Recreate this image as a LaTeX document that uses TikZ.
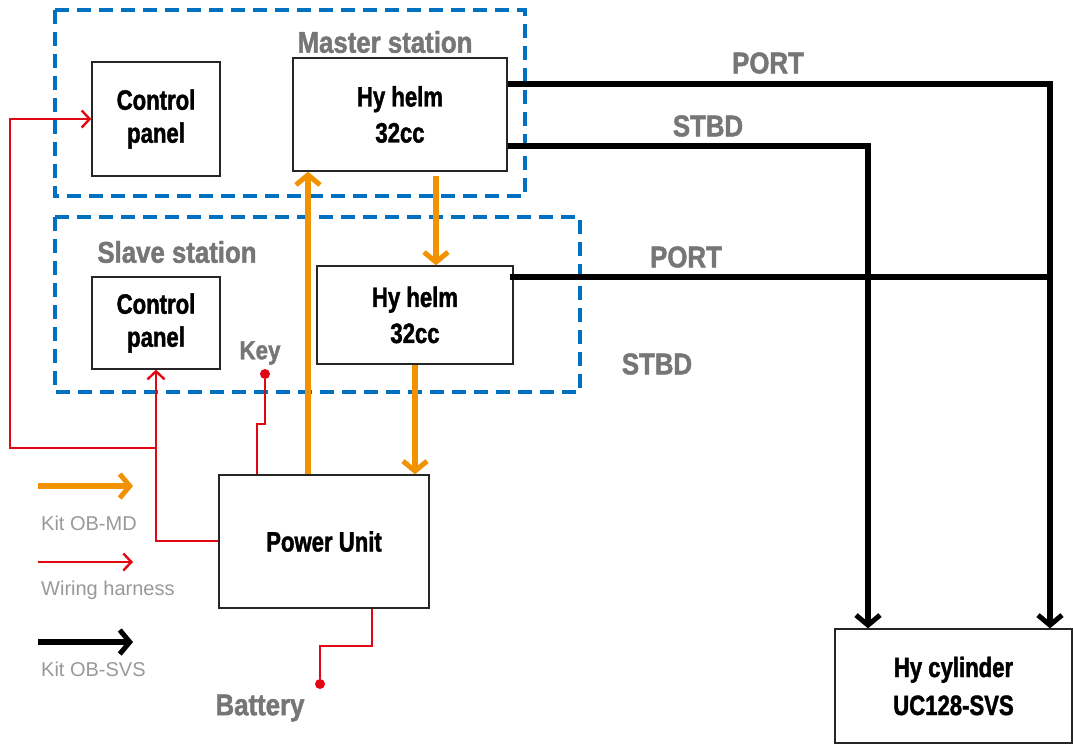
\documentclass[tikz,border=0pt]{standalone}
\usepackage{fontspec}
\setmainfont{Liberation Sans}
\newfontfamily\imp[FakeStretch=0.79,FakeBold=1.5]{Liberation Sans Bold}
\newfontfamily\impg[FakeStretch=0.86,FakeBold=1.5]{Liberation Sans Bold}
\usetikzlibrary{arrows.meta}
\definecolor{org}{RGB}{243,146,0}
\definecolor{wred}{RGB}{227,6,19}
\definecolor{dblue}{RGB}{0,112,192}
\definecolor{lgray}{RGB}{118,118,118}
\definecolor{legray}{RGB}{153,153,153}
\begin{document}
\begin{tikzpicture}[x=1pt,y=-1pt,
  box/.style={draw=black!85, line width=1.3pt, inner sep=0pt, align=center,
    font=\imp\fontsize{28}{33}\selectfont},
  station/.style={draw=dblue, line width=3.2pt, dash pattern=on 14pt off 8pt},
  glabel/.style={text=lgray, inner sep=0pt, font=\impg\fontsize{30}{34}\selectfont},
  legtext/.style={text=legray, inner sep=0pt, anchor=west, font=\fontsize{20}{24}\selectfont},
  orangearrow/.style={draw=org, line width=5.5pt, -{Straight Barb[length=10pt,width=24pt,line width=5pt]}},
  wire/.style={draw=wred, line width=2.4pt},
  wirearrow/.style={wire, -{Straight Barb[length=8pt,width=17pt,line width=2.4pt]}},
  hyd/.style={draw=black, line width=5.5pt},
  hydarrow/.style={hyd, -{Straight Barb[length=10pt,width=24pt,line width=5pt]}},
  dot/.style={circle, fill=wred, inner sep=0pt, minimum size=10pt}
]
\useasboundingbox (0,0) rectangle (1073,744);
\fill[white] (0,0) rectangle (1073,744);

% station frames
\draw[station] (55,10) rectangle (525,196);
\draw[station] (55,217) rectangle (580,392);

% boxes
\node[box, minimum width=128pt, minimum height=114pt] (mcp) at (156,119) {Control\\panel};
\node[box, minimum width=214pt, minimum height=113pt, font=\imp\fontsize{28}{36}\selectfont] (mh) at (400,114.5) {Hy helm\\32cc};
\node[box, minimum width=128pt, minimum height=92pt] (scp) at (156,323) {Control\\panel};
\node[box, minimum width=196pt, minimum height=98pt, font=\imp\fontsize{28}{36}\selectfont] (sh) at (415,315) {Hy helm\\32cc};
\node[box, minimum width=210pt, minimum height=133pt] (pu) at (324,541.5) {Power Unit};
\node[box, minimum width=237pt, minimum height=114pt, font=\imp\fontsize{28}{38}\selectfont] (cyl) at (953.5,686) {Hy cylinder\\UC128-SVS};

% labels
\node[glabel] (lms) at (385,42) {Master station};
\node[glabel] (lss) at (177,252) {Slave station};
\node[glabel, font=\impg\fontsize{26}{30}\selectfont] (lkey) at (260,353) {Key};
\node[glabel] (lp1) at (768,63) {PORT};
\node[glabel] (ls1) at (708,126) {STBD};
\node[glabel] (lp2) at (686,257) {PORT};
\node[glabel] (ls2) at (657,364) {STBD};
\node[glabel] (lbat) at (260,708) {Battery};

% hydraulic (black)
\draw[hydarrow] (mh.east |- 0,84) -- (1050,84) -- (cyl.north -| 1050,0);
\draw[hydarrow] (mh.east |- 0,146) -- (868,146) -- (cyl.north -| 868,0);
\draw[hyd] (510,277) -- (1050,277);

% orange (Kit OB-MD)
\draw[orangearrow] (pu.north -| 308,0) -- (mh.south -| 308,0);
\draw[orangearrow] (436,176) -- (sh.north -| 436,0);
\draw[orangearrow] (sh.south -| 415,0) -- (pu.north -| 415,0);

% wiring
\coordinate (wj) at (156,448);
\draw[wirearrow] (pu.west |- 0,541) -- (156,541) -- (scp.south -| 156,0);
\draw[wirearrow] (wj) -- (10,448) -- (10,119) -- (mcp.west);
\node[dot] (keydot) at (265,374) {};
\draw[wire] (keydot) -- (265,424) -- (257,424) -- (pu.north -| 257,0);
\node[dot] (batdot) at (320,684) {};
\draw[wire] (pu.south -| 372,0) -- (372,646) -- (320,646) -- (batdot);

% legend
\coordinate (l1a) at (38,486); \coordinate (l1b) at (133,486);
\coordinate (l2a) at (38,562); \coordinate (l2b) at (133,562);
\coordinate (l3a) at (38,642); \coordinate (l3b) at (133,642);
\draw[orangearrow] (l1a) -- (l1b);
\draw[wirearrow] (l2a) -- (l2b);
\draw[hydarrow] (l3a) -- (l3b);
\node[legtext] (t1) at (41,523) {Kit OB-MD};
\node[legtext] (t2) at (41,590) {Wiring harness};
\node[legtext] (t3) at (41,669) {Kit OB-SVS};
\end{tikzpicture}
\end{document}
